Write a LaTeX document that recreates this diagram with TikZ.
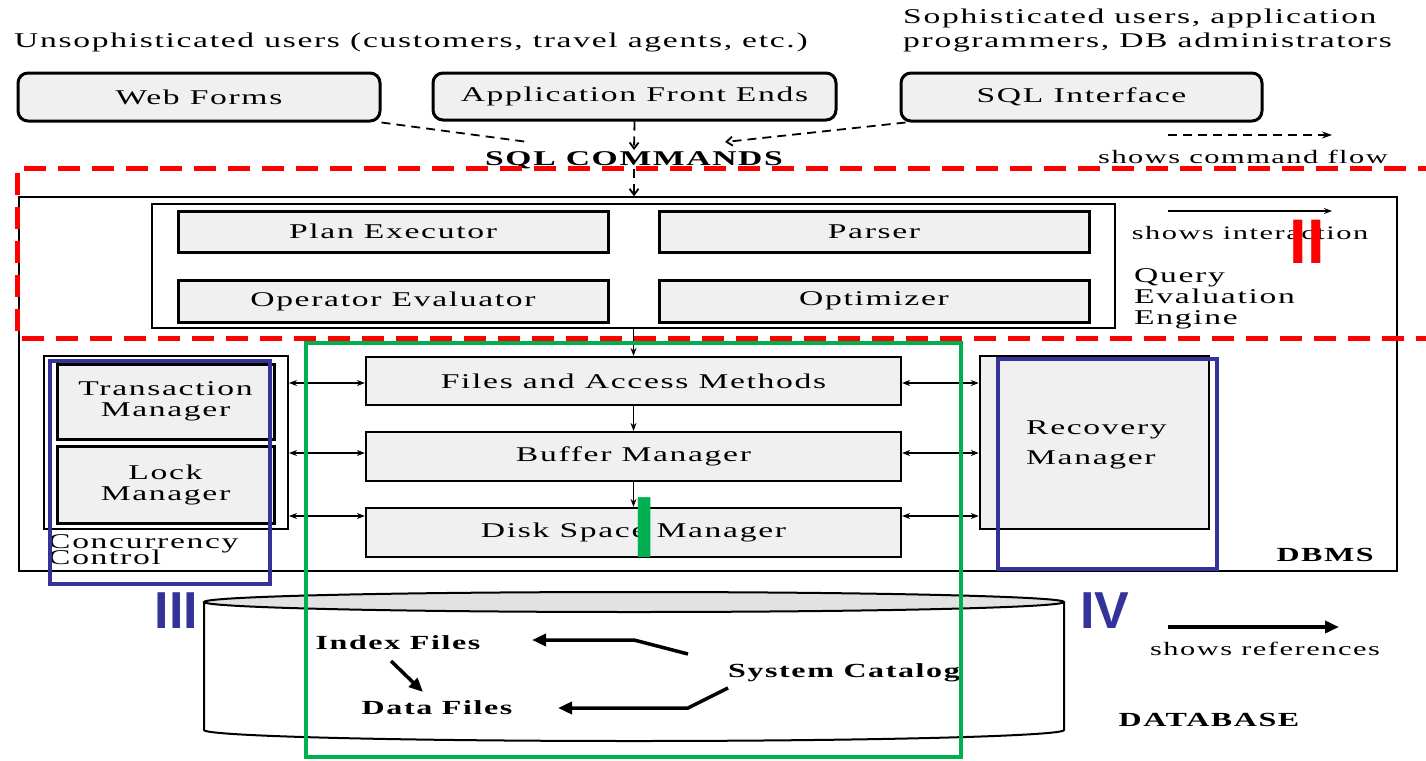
\documentclass[tikz,border=0pt]{standalone}
\usepackage{fontspec}
\setmainfont[FakeStretch=1.6,LetterSpace=8]{Liberation Serif}
\newfontfamily\labfont{Liberation Sans}
\usetikzlibrary{arrows.meta}
\definecolor{boxgray}{HTML}{F0F0F0}
\definecolor{cylgray}{HTML}{E2E2E2}
\definecolor{annblue}{HTML}{333399}
\definecolor{anngreen}{HTML}{00B050}
\definecolor{annred}{HTML}{FF0000}
\tikzset{
  txt/.style={font=\fontsize{21}{22}\selectfont, inner sep=0pt},
  small/.style={font=\fontsize{19}{20}\selectfont, inner sep=0pt},
  btxt/.style={font=\fontsize{20}{22}\selectfont\bfseries, inner sep=0pt},
  ubox/.style={draw, line width=3pt, rounded corners=10pt, fill=boxgray, txt},
  qbox/.style={draw, line width=3pt, fill=boxgray, txt},
  filebox/.style={draw, line width=2.2pt, fill=boxgray, txt},
  thinbox/.style={draw, line width=1.5pt},
  ia/.style={line width=1.3pt, {Stealth[length=8pt,width=6pt]}-{Stealth[length=8pt,width=6pt]}},
  fl/.style={line width=1.3pt, -{Stealth[length=8pt,width=6pt]}},
  cmd/.style={line width=1.8pt, dash pattern=on 9pt off 6pt},
  cmdarrow/.style={cmd, -{Straight Barb[length=6pt,width=9pt]}},
  refarrow/.style={line width=3.5pt, -{Triangle[length=14pt,width=12pt]}},
  ann/.style={line width=4pt},
  roman/.style={font=\labfont\bfseries, inner sep=0pt},
}
\begin{document}
\begin{tikzpicture}[x=1pt,y=-1pt]
\useasboundingbox (0,0) rectangle (1426,760);
% user texts
\node[txt, anchor=west] (unsoph) at (14,42) {Unsophisticated users (customers, travel agents, etc.)};
\node[txt, anchor=west, align=left] (soph) at (903,30) {Sophisticated users, application\\[2pt]programmers, DB administrators};
% interfaces
\node[ubox, minimum width=362, minimum height=48] (web) at (199,97) {Web Forms};
\node[ubox, minimum width=403, minimum height=47] (afe) at (634.5,96.5) {Application Front Ends};
\node[ubox, minimum width=361, minimum height=48] (sqlif) at (1081.5,97) {SQL Interface};
\node[txt, font=\fontsize{21}{22}\selectfont\bfseries] (sqlcmd) at (634,160) {SQL COMMANDS};
\coordinate (webend) at (528,142);
\coordinate (sqlend) at (725,142);
\draw[cmd] (web.south east) -- (webend);
\draw[cmdarrow] (afe.south) -- (634,150);
\draw[cmdarrow] ([xshift=6pt]sqlif.south west) -- (sqlend);
% legend command flow
\coordinate (cfa) at (1168,135);
\coordinate (cfb) at (1332,135);
\draw[cmd, -{Stealth[length=10pt,width=7pt]}] (cfa) -- (cfb);
\node[small] (cflow) at (1243,157) {shows command flow};
% DBMS
\node[thinbox, minimum width=1378, minimum height=374, inner sep=0pt] (dbms) at (708,384) {};
\draw[cmdarrow] (sqlcmd.south) -- (sqlcmd.south |- dbms.north);
\node[thinbox, minimum width=963, minimum height=124, inner sep=0pt] (qee) at (633.5,266) {};
\node[qbox, minimum width=430, minimum height=41] (plan) at (393,231.5) {Plan Executor};
\node[qbox, minimum width=430, minimum height=41] (parser) at (874,231.5) {Parser};
\node[qbox, minimum width=430, minimum height=42] (opev) at (393,301) {Operator Evaluator};
\node[qbox, minimum width=430, minimum height=42] (opt) at (874,301) {Optimizer};
\node[txt, anchor=west, align=left] (qeetxt) at (1134,299) {Query\\[-1pt]Evaluation\\[-1pt]Engine};
% legend interaction
\coordinate (ila) at (1168,211);
\coordinate (ilb) at (1332,211);
\draw[fl] (ila) -- (ilb);
\node[small] (inter) at (1250,233) {shows interaction};
% files
\node[filebox, minimum width=535, minimum height=48] (files) at (633.5,381) {Files and Access Methods};
\node[filebox, minimum width=535, minimum height=49] (buf) at (633.5,456.5) {Buffer Manager};
\node[filebox, minimum width=535, minimum height=49] (disk) at (633.5,532.5) {Disk Space Manager};
\draw[fl] (qee.south -| files.north) -- (files.north);
\draw[fl] (files.south) -- (buf.north);
\draw[fl] (buf.south) -- (disk.north);
% concurrency
\node[draw, line width=2pt, minimum width=244, minimum height=173, inner sep=0pt] (conc) at (166,442.5) {};
\node[qbox, align=center, minimum width=217, minimum height=75] (trans) at (165.5,401.5) {Transaction\\[-1pt]Manager};
\node[qbox, align=center, minimum width=217, minimum height=77] (lock) at (165.5,484.5) {Lock\\[-1pt]Manager};
\node[txt, anchor=west, align=left] (conctxt) at (48,550) {Concurrency\\[-6pt]Control};
% recovery
\node[draw, line width=2.5pt, fill=boxgray, minimum width=229, minimum height=173, inner sep=0pt] (rec) at (1094.5,442.5) {};
\node[txt, anchor=west, align=left] (rectxt) at (1026,445) {Recovery\\[8pt]Manager};
% interactions
\draw[ia] (conc.east |- 0,383) -- (files.west |- 0,383);
\draw[ia] (conc.east |- 0,453) -- (buf.west |- 0,453);
\draw[ia] (conc.east |- 0,516) -- (disk.west |- 0,516);
\draw[ia] (files.east |- 0,383) -- (rec.west |- 0,383);
\draw[ia] (buf.east |- 0,453) -- (rec.west |- 0,453);
\draw[ia] (disk.east |- 0,516) -- (rec.west |- 0,516);
\node[btxt, anchor=east] (dbmstxt) at (1374,555) {DBMS};
% database cylinder
\draw[line width=2pt, fill=white] (204,602) -- (204,730) arc[start angle=180, end angle=0, x radius=430, y radius=11] -- (1064,602);
\draw[line width=2pt, fill=cylgray] (634,602) ellipse[x radius=430, y radius=10];
\node[btxt] (idx) at (398,643) {Index Files};
\node[btxt] (dat) at (437,708) {Data Files};
\node[btxt] (cat) at (844,673) {System Catalog};
\node[btxt] (dbtxt) at (1209,720) {DATABASE};
\coordinate (i1) at (391,661);
\coordinate (i2) at (423,692);
\draw[refarrow] (i1) -- (i2);
\coordinate (c1) at (688,654);
\coordinate (c2) at (634,640);
\coordinate (c3) at (532,640);
\draw[refarrow] (c1) -- (c2) -- (c3);
\coordinate (d1) at (728,688);
\coordinate (d2) at (688,708);
\coordinate (d3) at (558,708);
\draw[refarrow] (d1) -- (d2) -- (d3);
% legend references
\coordinate (ra) at (1168,627);
\coordinate (rb) at (1339,627);
\draw[refarrow] (ra) -- (rb);
\node[small] (refs) at (1265,649) {shows references};
% annotations
\draw[annred, line width=5pt, dash pattern=on 22pt off 12pt] (1440,168) -- (17,168) -- (17,338) -- (1440,338);
\draw[anngreen, ann] (306,343) rectangle (961,757);
\draw[annblue, ann] (50,361) rectangle (270,584);
\draw[annblue, ann] (998,359) rectangle (1217,569);
\node[roman, text=annred, font=\labfont\bfseries\fontsize{63}{63}\selectfont] (lII) at (1307,241.5) {II};
\node[roman, text=annblue, font=\labfont\bfseries\fontsize{52}{52}\selectfont] (lIII) at (176.5,610.5) {III};
\node[roman, text=annblue, font=\labfont\bfseries\fontsize{52}{52}\selectfont] (lIV) at (1105,610.5) {IV};
\node[roman, text=anngreen, font=\labfont\bfseries\fontsize{87}{87}\selectfont] (lI) at (645,528) {I};
\end{tikzpicture}
\end{document}
